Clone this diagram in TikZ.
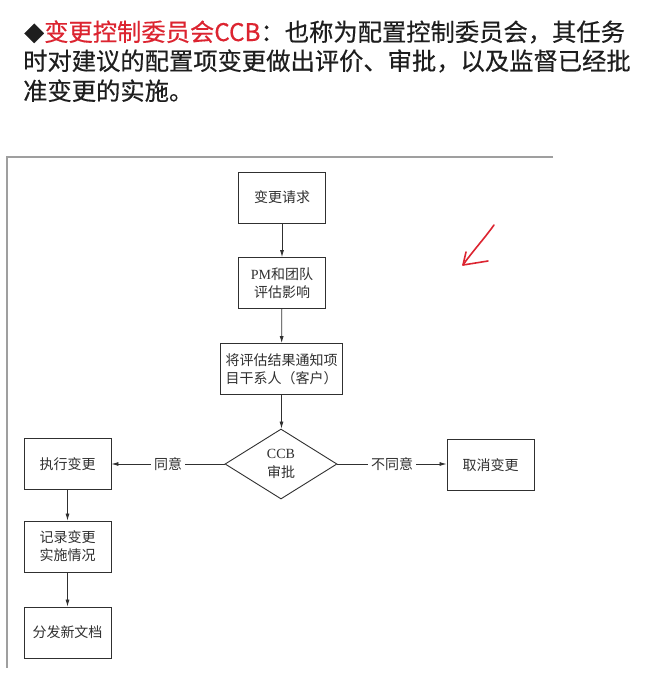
\documentclass[tikz,border=0pt]{standalone}
\usepackage{fontspec}
\setmainfont{Noto Sans CJK SC}
\newfontfamily\hdfont[FakeBold=0.4]{Noto Sans CJK SC}
\newfontfamily\latserif{Liberation Serif}
\usetikzlibrary{shapes.geometric,arrows.meta}
\definecolor{hdred}{HTML}{DC2430}
\definecolor{ink}{HTML}{303030}
\definecolor{hdink}{HTML}{1E1E1E}
\begin{document}
\begin{tikzpicture}[x=1pt,y=-1pt,
  box/.style={draw=ink, line width=0.9pt, minimum width=#1, minimum height=51pt,
    inner sep=0pt, align=center, font=\fontsize{14}{18}\selectfont, text=ink},
  box/.default=87pt,
  dia/.style={draw=ink, line width=0.9pt, diamond, minimum width=112pt, minimum height=70pt,
    inner sep=0pt, align=center, font=\fontsize{14}{19}\selectfont, text=ink},
  arr/.style={draw=ink, line width=0.8pt, -{Latex[length=7pt,width=4pt]}},
  lbl/.style={fill=white, inner sep=3pt, font=\fontsize{14}{16}\selectfont, text=ink},
  hd/.style={anchor=base west, inner sep=0pt, font=\hdfont\fontsize{24.3}{24.3}\selectfont, text=hdink}
]
\useasboundingbox (0,0) rectangle (649,673);
\fill[white] (0,0) rectangle (649,673);

% heading
\node[hd] (t1) at (24,41) {{\fontsize{20}{20}\selectfont ◆}\textcolor{hdred}{变更控制委员会CCB}：也称为配置控制委员会，其任务};
\node[hd] (t2) at (23,70) {时对建议的配置项变更做出评价、审批，以及监督已经批};
\node[hd] (t3) at (23,100) {准变更的实施。};

% frame of the scanned figure
\draw[gray!75, line width=1.3pt] (553,157) -- (7,157) -- (7,668);

% red hand-drawn arrow
\draw[hdred, line width=1.6pt, line cap=round, line join=round]
  (494,225) .. controls (484,239) and (472,252) .. (463,265);
\draw[hdred, line width=1.6pt, line cap=round, line join=round]
  (466,252) .. controls (464,258) .. (463,265) -- (488,261);

% nodes
\node[box] (req) at (282,197.5) {变更请求};
\node[box] (eval) at (282,283) {{\latserif PM}和团队\\评估影响};
\node[box=122pt] (notify) at (281.5,369) {将评估结果通知项\\目干系人（客户）};
\node[dia] (ccb) at (281,464) {{\latserif CCB}\\审批};
\node[box] (exec) at (67.5,464) {执行变更};
\node[box] (cancel) at (490.5,465) {取消变更};
\node[box] (rec) at (67.5,546.5) {记录变更\\实施情况};
\node[box] (dist) at (67.5,632.5) {分发新文档};

% connectors
\draw[arr] (req) -- (eval);
\draw[arr] (eval) -- (notify);
\draw[arr] (notify.south) -- (notify.south |- ccb.north);
\draw[arr] (ccb.west) -- node[lbl] (yes) {同意} (ccb.west -| exec.east);
\draw[arr] (ccb.east) -- node[lbl] (no) {不同意} (ccb.east -| cancel.west);
\draw[arr] (exec) -- (rec);
\draw[arr] (rec) -- (dist);
\end{tikzpicture}
\end{document}
